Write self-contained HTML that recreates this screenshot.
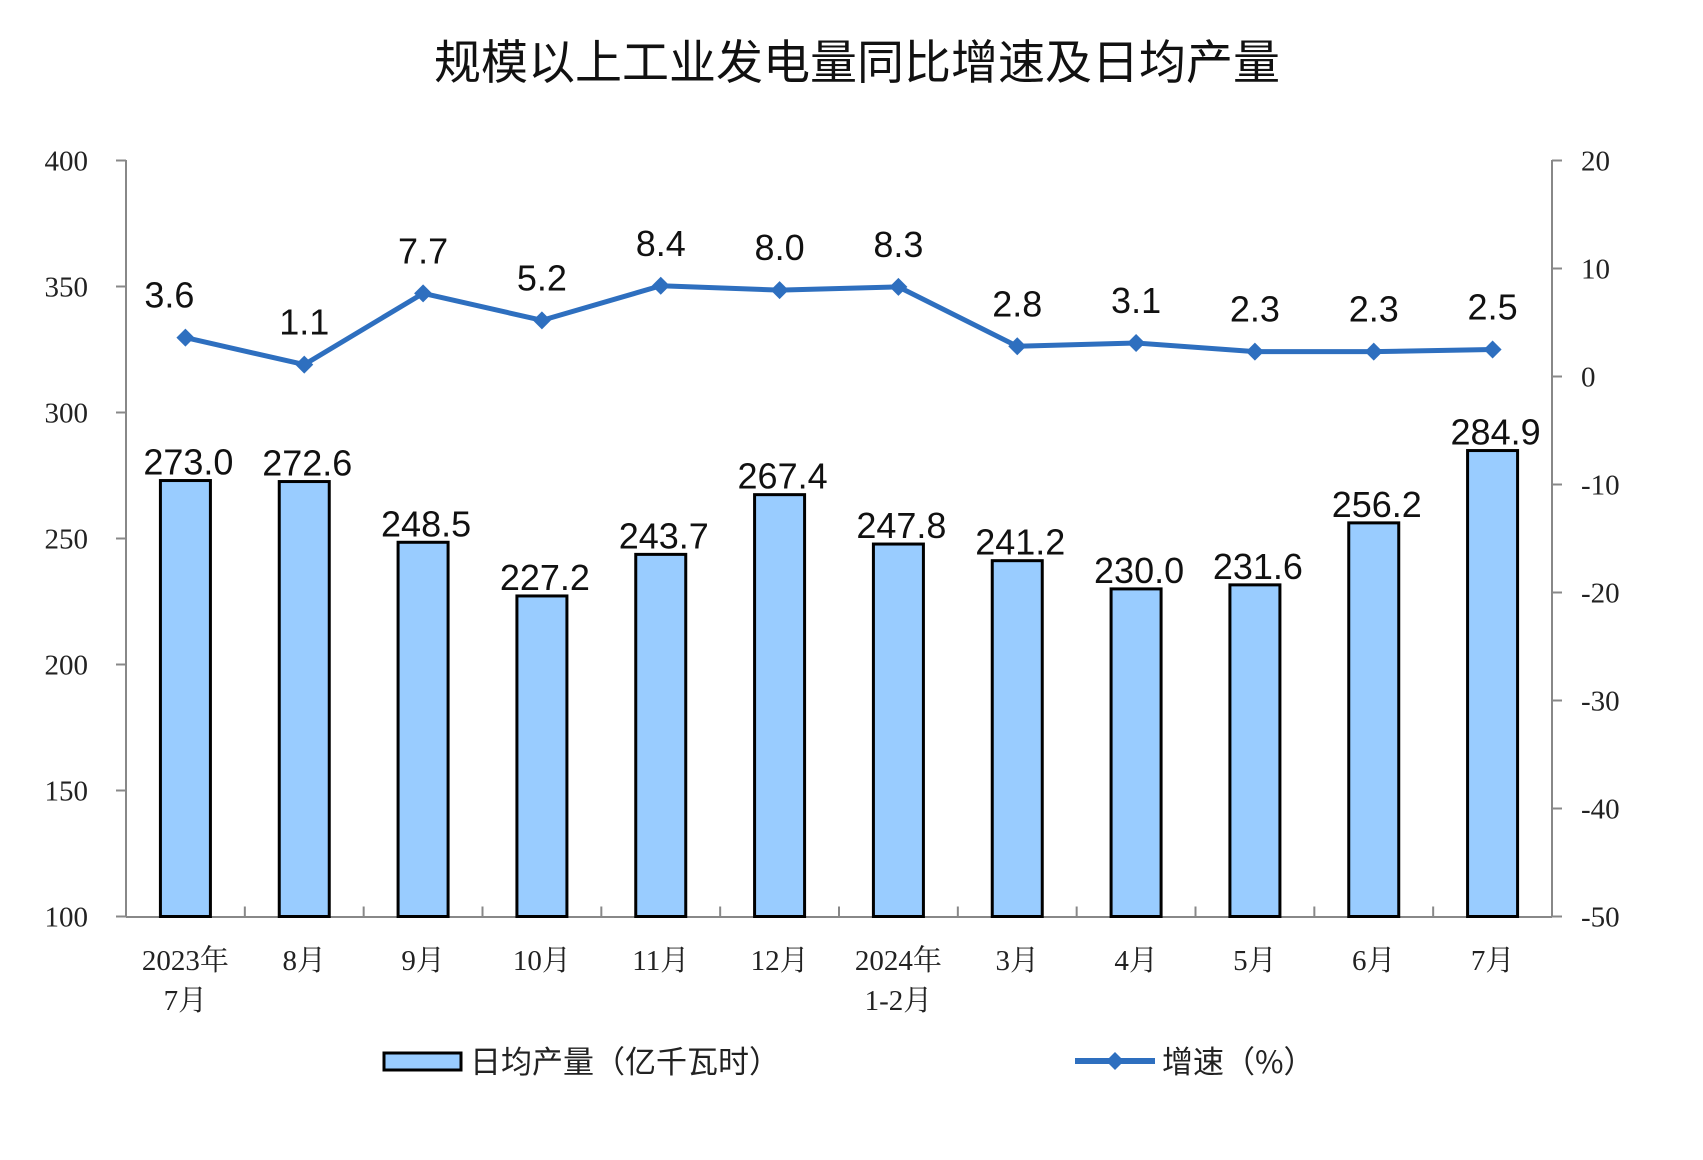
<!DOCTYPE html>
<html><head><meta charset="utf-8"><style>
html,body{margin:0;padding:0;background:#fff;}
svg{display:block;}
.t{font-family:"Liberation Serif","Noto Serif CJK SC","Noto Sans CJK SC",serif;font-size:29px;fill:#222;}
.d{font-family:"Liberation Sans","Noto Sans CJK SC",sans-serif;font-size:36px;fill:#111;}
.x{font-family:"Liberation Serif","Noto Serif CJK SC",serif;font-size:29px;fill:#222;}
</style></head><body>
<svg width="1703" height="1160" viewBox="0 0 1703 1160" xmlns="http://www.w3.org/2000/svg">
<text x="857" y="79" text-anchor="middle" style="font-family:'Noto Sans CJK SC',sans-serif;font-size:47px;fill:#111">规模以上工业发电量同比增速及日均产量</text>
<g stroke="#888" stroke-width="2" fill="none">
<line x1="126" y1="160" x2="126" y2="917"/>
<line x1="1552" y1="160" x2="1552" y2="917"/>
<line x1="126" y1="917" x2="1552" y2="917"/>
</g>
<g id="ticks" stroke="#888" stroke-width="2"></g>
<g id="bars"></g>
<g id="lbl"></g>
<polyline id="ln" fill="none" stroke="#2e6fbf" stroke-width="5" stroke-linejoin="round"/>
<g id="mk" fill="#2e6fbf"></g>
<rect x="384" y="1053" width="77" height="17" fill="#99ccff" stroke="#000" stroke-width="3"/>
<text class="x" x="470" y="1073" style="font-family:'Noto Sans CJK SC',sans-serif;font-size:31px">日均产量（亿千瓦时）</text>
<line x1="1075" y1="1061" x2="1155" y2="1061" stroke="#2e6fbf" stroke-width="6"/>
<polygon points="1115,1052 1124,1061 1115,1070 1106,1061" fill="#2e6fbf"/>
<text class="x" x="1162" y="1073" style="font-family:'Noto Sans CJK SC',sans-serif;font-size:31px">增速（%）</text>
</svg>
<script>
(function(){
var ns="http://www.w3.org/2000/svg";
function el(p,t,a,txt){var e=document.createElementNS(ns,t);for(var k in a)e.setAttribute(k,a[k]);if(txt!=null)e.textContent=txt;document.getElementById(p).appendChild(e);return e;}
var T=160.5,B=916.5,L=126,R=1552,cw=(R-L)/12;
var yl=function(v){return B-(v-100)/300*(B-T);};
var yr=function(v){return T+(20-v)/70*(B-T);};
for(var i=0;i<7;i++){var y=T+i*(B-T)/6;el("ticks","line",{x1:L,y1:y,x2:L-10,y2:y});
el("lbl","text",{x:88,y:y+10,"text-anchor":"end","class":"t"},String(400-i*50));}
for(var i=0;i<8;i++){var y=T+i*(B-T)/7;el("ticks","line",{x1:R,y1:y,x2:R+10,y2:y});
el("lbl","text",{x:1581,y:y+10,"class":"t"},String(20-i*10));}
for(var i=1;i<12;i++){el("ticks","line",{x1:L+i*cw,y1:B,x2:L+i*cw,y2:B-10});}
var b=[273.0,272.6,248.5,227.2,243.7,267.4,247.8,241.2,230.0,231.6,256.2,284.9];
var g=[3.6,1.1,7.7,5.2,8.4,8.0,8.3,2.8,3.1,2.3,2.3,2.5];
var xl=[["2023年","7月"],["8月"],["9月"],["10月"],["11月"],["12月"],["2024年","1-2月"],["3月"],["4月"],["5月"],["6月"],["7月"]];
var pts=[];
for(var i=0;i<12;i++){var cx=L+cw*(i+0.5),y=yl(b[i]);
el("bars","rect",{x:cx-25,y:y,width:50,height:B-y,fill:"#99ccff",stroke:"#000","stroke-width":3});
el("lbl","text",{x:cx+3,y:y-6,"text-anchor":"middle","class":"d"},b[i].toFixed(1));
var yy=yr(g[i]);pts.push(cx+","+yy);
el("mk","polygon",{points:(cx)+","+(yy-9)+" "+(cx+9)+","+yy+" "+cx+","+(yy+9)+" "+(cx-9)+","+yy});
el("lbl","text",{x:cx-(i==0?16:0),y:yy-30,"text-anchor":"middle","class":"d"},g[i].toFixed(1));
for(var j=0;j<xl[i].length;j++)el("lbl","text",{x:cx,y:970+j*40,"text-anchor":"middle","class":"x"},xl[i][j]);}
document.getElementById("ln").setAttribute("points",pts.join(" "));
})();
</script>
</body></html>
